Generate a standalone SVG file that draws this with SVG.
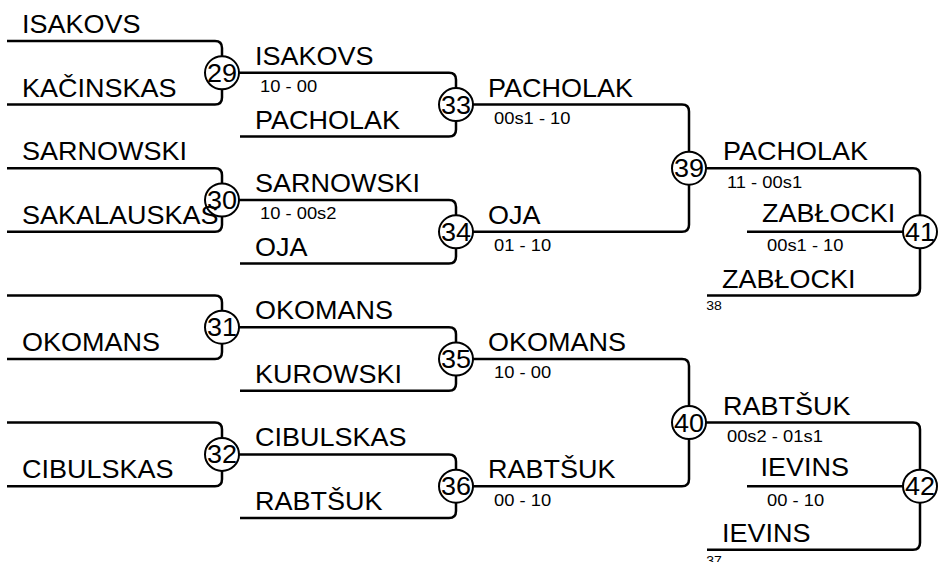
<svg xmlns="http://www.w3.org/2000/svg" width="944" height="562" viewBox="0 0 944 562">
<style>
.ln{fill:none;stroke:#000;stroke-width:2.5;stroke-linejoin:round}
.cr{fill:#fff;stroke:#000;stroke-width:2}
.nm{font-family:"Liberation Sans",Arial,sans-serif;font-size:25px;fill:#000}
.num{font-family:"Liberation Sans",Arial,sans-serif;font-size:25px;fill:#000;text-anchor:middle}
.sc{font-family:"Liberation Sans",Arial,sans-serif;font-size:17px;fill:#000}
.sm{font-family:"Liberation Sans",Arial,sans-serif;font-size:13px;fill:#000}
</style>
<rect width="944" height="562" fill="#fff"/>
<g id="connectors">
<path class="ln" d="M7,41 H215 Q222,41 222,48 V97.6 Q222,104.6 215,104.6 H7"/>
<path class="ln" d="M7,168.2 H215 Q222,168.2 222,175.2 V224.8 Q222,231.8 215,231.8 H7"/>
<path class="ln" d="M7,295.4 H215 Q222,295.4 222,302.4 V352 Q222,359 215,359 H7"/>
<path class="ln" d="M7,422.6 H215 Q222,422.6 222,429.6 V479.2 Q222,486.2 215,486.2 H7"/>
<path class="ln" d="M222,72.8 H449 Q456,72.8 456,79.8 V129.4 Q456,136.4 449,136.4 H240"/>
<path class="ln" d="M222,200 H449 Q456,200 456,207 V256.6 Q456,263.6 449,263.6 H240"/>
<path class="ln" d="M222,327.2 H449 Q456,327.2 456,334.2 V383.8 Q456,390.8 449,390.8 H240"/>
<path class="ln" d="M222,454.4 H449 Q456,454.4 456,461.4 V511 Q456,518 449,518 H240"/>
<path class="ln" d="M456,104.6 H682 Q689,104.6 689,111.6 V224.8 Q689,231.8 682,231.8 H456"/>
<path class="ln" d="M456,359 H682 Q689,359 689,366 V479.2 Q689,486.2 682,486.2 H456"/>
<path class="ln" d="M689,168.2 H913 Q920,168.2 920,175.2 V288.4 Q920,295.4 913,295.4 H707"/>
<path class="ln" d="M747,231.8 H920"/>
<path class="ln" d="M689,422.6 H913 Q920,422.6 920,429.6 V542.8 Q920,549.8 913,549.8 H707"/>
<path class="ln" d="M747,486.2 H920"/>
</g>
<g id="m29"><ellipse class="cr" cx="222" cy="72.8" rx="17" ry="16.5"/><text class="num" transform="scale(1.08,1)" x="205.6" y="81.8">29</text></g>
<g id="m30"><ellipse class="cr" cx="222" cy="200" rx="17" ry="16.5"/><text class="num" transform="scale(1.08,1)" x="205.6" y="209">30</text></g>
<g id="m31"><ellipse class="cr" cx="222" cy="327.2" rx="17" ry="16.5"/><text class="num" transform="scale(1.08,1)" x="205.6" y="336.2">31</text></g>
<g id="m32"><ellipse class="cr" cx="222" cy="454.4" rx="17" ry="16.5"/><text class="num" transform="scale(1.08,1)" x="205.6" y="463.4">32</text></g>
<g id="m33"><ellipse class="cr" cx="456" cy="104.6" rx="17" ry="16.5"/><text class="num" transform="scale(1.08,1)" x="422.2" y="113.6">33</text></g>
<g id="m34"><ellipse class="cr" cx="456" cy="231.8" rx="17" ry="16.5"/><text class="num" transform="scale(1.08,1)" x="422.2" y="240.8">34</text></g>
<g id="m35"><ellipse class="cr" cx="456" cy="359" rx="17" ry="16.5"/><text class="num" transform="scale(1.08,1)" x="422.2" y="368">35</text></g>
<g id="m36"><ellipse class="cr" cx="456" cy="486.2" rx="17" ry="16.5"/><text class="num" transform="scale(1.08,1)" x="422.2" y="495.2">36</text></g>
<g id="m39"><ellipse class="cr" cx="689" cy="168.2" rx="17" ry="16.5"/><text class="num" transform="scale(1.08,1)" x="638" y="177.2">39</text></g>
<g id="m40"><ellipse class="cr" cx="689" cy="422.6" rx="17" ry="16.5"/><text class="num" transform="scale(1.08,1)" x="638" y="431.6">40</text></g>
<g id="m41"><ellipse class="cr" cx="920" cy="231.8" rx="17" ry="16.5"/><text class="num" transform="scale(1.08,1)" x="851.9" y="240.8">41</text></g>
<g id="m42"><ellipse class="cr" cx="920" cy="486.2" rx="17" ry="16.5"/><text class="num" transform="scale(1.08,1)" x="851.9" y="495.2">42</text></g>
<g id="names" transform="scale(1.08,1)">
<text class="nm" x="20.4" y="33">ISAKOVS</text>
<text class="nm" x="20.4" y="96.6">KAČINSKAS</text>
<text class="nm" x="20.4" y="160.2">SARNOWSKI</text>
<text class="nm" x="20.4" y="223.8">SAKALAUSKAS</text>
<text class="nm" x="20.4" y="351">OKOMANS</text>
<text class="nm" x="20.4" y="478.2">CIBULSKAS</text>
<text class="nm" x="236.1" y="65">ISAKOVS</text>
<text class="nm" x="236.1" y="129">PACHOLAK</text>
<text class="nm" x="236.1" y="192.5">SARNOWSKI</text>
<text class="nm" x="236.1" y="256.5">OJA</text>
<text class="nm" x="236.1" y="319.5">OKOMANS</text>
<text class="nm" x="236.1" y="383">KUROWSKI</text>
<text class="nm" x="236.1" y="446.5">CIBULSKAS</text>
<text class="nm" x="236.1" y="510.5">RABTŠUK</text>
<text class="nm" x="451.9" y="97">PACHOLAK</text>
<text class="nm" x="451.9" y="224.5">OJA</text>
<text class="nm" x="451.9" y="351">OKOMANS</text>
<text class="nm" x="451.9" y="478.5">RABTŠUK</text>
<text class="nm" x="669.4" y="160">PACHOLAK</text>
<text class="nm" x="705.5" y="222">ZABŁOCKI</text>
<text class="nm" x="668.5" y="288">ZABŁOCKI</text>
<text class="nm" x="669.4" y="415">RABTŠUK</text>
<text class="nm" x="704.2" y="476">IEVINS</text>
<text class="nm" x="668.5" y="542">IEVINS</text>
</g>
<g id="scores" transform="scale(1.08,1)">
<text class="sc" x="240.7" y="92.3">10 - 00</text>
<text class="sc" x="240.7" y="219.5">10 - 00s2</text>
<text class="sc" x="457.4" y="124">00s1 - 10</text>
<text class="sc" x="457.4" y="251">01 - 10</text>
<text class="sc" x="673.1" y="187.7">11 - 00s1</text>
<text class="sc" x="710.2" y="251.3">00s1 - 10</text>
<text class="sc" x="457.4" y="378.5">10 - 00</text>
<text class="sc" x="457.4" y="505.7">00 - 10</text>
<text class="sc" x="673.1" y="442">00s2 - 01s1</text>
<text class="sc" x="710.2" y="505.7">00 - 10</text>
<text class="sm" x="654" y="310">38</text>
<text class="sm" x="654" y="565">37</text>
</g>
</svg>
